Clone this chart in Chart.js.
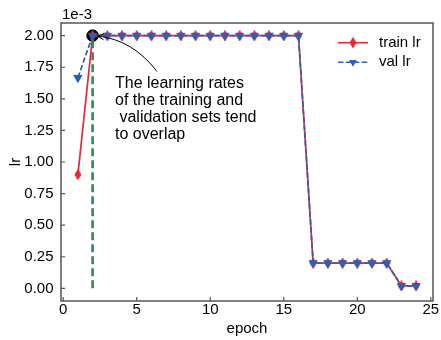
<!DOCTYPE html>
<html><head><meta charset="utf-8">
<script src="https://cdn.jsdelivr.net/npm/chart.js@4.4.0/dist/chart.umd.min.js"></script>
<style>html,body{margin:0;padding:0;background:#fff}</style>
</head><body>
<canvas id="c" width="441" height="340" style="width:441px;height:340px;display:block"></canvas>
<script>
// ---- data ----
const epochs = [1,2,3,4,5,6,7,8,9,10,11,12,13,14,15,16,17,18,19,20,21,22,23,24];
const trainLr = [0.0009,0.002,0.002,0.002,0.002,0.002,0.002,0.002,0.002,0.002,0.002,0.002,0.002,0.002,0.002,0.002,0.0002,0.0002,0.0002,0.0002,0.0002,0.0002,0.00002,0.00002];
const valLr = [0.001667,0.002,0.002,0.002,0.002,0.002,0.002,0.002,0.002,0.002,0.002,0.002,0.002,0.002,0.002,0.002,0.0002,0.0002,0.0002,0.0002,0.0002,0.0002,0.00002,0.00002];
const highlightEpoch = [2];
const highlightLr = [0.002];
const guideEpoch = [2, 2];
const guideLr = [0, 0.002];
const xTicks = [0,5,10,15,20,25];
const yTicks = [0,0.00025,0.0005,0.00075,0.001,0.00125,0.0015,0.00175,0.002];
const yScaleFactor = 1000;
const yOffsetLabel = "1e-3";
const legendLabels = ["train lr", "val lr"];
const annotationLines = ["The learning rates", "of the training and", " validation sets tend", "to overlap"];
const xTitle = "epoch";
const yTitle = "lr";

// ---- styles ----
const FONT = "'Liberation Sans', Arial, Helvetica, sans-serif";
const RED = '#e8283a', BLUE = '#2f5fb3', GREEN = '#2e8b57', SPINE = '#555555';

function makeDiamond(color){
  const cv = document.createElement('canvas');
  cv.width = 8; cv.height = 11;
  const g = cv.getContext('2d');
  g.beginPath();
  g.moveTo(4,0.5); g.lineTo(7,5.5); g.lineTo(4,10.5); g.lineTo(1,5.5); g.closePath();
  g.fillStyle = color; g.fill();
  g.strokeStyle = color; g.lineWidth = 1; g.stroke();
  return cv;
}
const diamond = makeDiamond(RED);

const pts = (xs, ys) => xs.map((x,i)=>({x:x, y:ys[i]}));

const framePlugin = {
  id: 'frame',
  afterDatasetsDraw(chart){
    const ctx = chart.ctx, a = chart.chartArea;
    const xs = chart.scales.x, ys = chart.scales.y;
    ctx.save();
    ctx.strokeStyle = SPINE; ctx.lineWidth = 1.5;
    ctx.strokeRect(a.left, a.top, a.right - a.left, a.bottom - a.top);
    ctx.lineWidth = 1.2;
    ctx.beginPath();
    xTicks.forEach(v=>{ const p = xs.getPixelForValue(v); ctx.moveTo(p, a.bottom); ctx.lineTo(p, a.bottom-4); });
    yTicks.forEach(v=>{ const p = ys.getPixelForValue(v); ctx.moveTo(a.left, p); ctx.lineTo(a.left+4, p); });
    ctx.stroke();
    ctx.fillStyle = '#000';
    ctx.font = '15px ' + FONT;
    ctx.textAlign = 'left'; ctx.textBaseline = 'middle';
    ctx.fillText(yOffsetLabel, a.left + 1, 15);

    // legend
    const lx0 = a.right - 95, lx1 = a.right - 65, lt = a.right - 54;
    const rows = [a.top + 19.7, a.top + 39.3];
    ctx.strokeStyle = RED; ctx.lineWidth = 1.6; ctx.setLineDash([]);
    ctx.beginPath(); ctx.moveTo(lx0, rows[0]); ctx.lineTo(lx1, rows[0]); ctx.stroke();
    ctx.drawImage(diamond, (lx0+lx1)/2 - 4, rows[0] - 5.5);
    ctx.strokeStyle = BLUE; ctx.setLineDash([5.5, 2.4]);
    ctx.beginPath(); ctx.moveTo(lx0, rows[1]); ctx.lineTo(lx1, rows[1]); ctx.stroke();
    ctx.setLineDash([]);
    const cx = (lx0+lx1)/2, cy = rows[1], r = 4.5;
    ctx.fillStyle = BLUE;
    ctx.beginPath();
    ctx.moveTo(cx, cy + r);
    ctx.lineTo(cx + r*Math.sqrt(3)/2, cy - r/2);
    ctx.lineTo(cx - r*Math.sqrt(3)/2, cy - r/2);
    ctx.closePath(); ctx.fill();
    ctx.fillStyle = '#000';
    ctx.fillText(legendLabels[0], lt, rows[0]);
    ctx.fillText(legendLabels[1], lt, rows[1]);

    // annotation text
    ctx.font = '16px ' + FONT;
    const tx = a.left + 54, ty = a.top + 60.5, lh = 16.9;
    annotationLines.forEach((s,i)=> ctx.fillText(s, tx, ty + i*lh));

    // arrow
    const P = {x: xs.getPixelForValue(highlightEpoch[0]), y: ys.getPixelForValue(highlightLr[0])};
    const S = {x: a.left + 96, y: a.top + 48.5};
    const mx = (P.x+S.x)/2, my = (P.y+S.y)/2;
    let dx = P.x - S.x, dy = P.y - S.y; const L = Math.hypot(dx,dy);
    const nx = -dy/L, ny = dx/L;
    const C = {x: mx + nx*16, y: my + ny*16};
    let ux = P.x - C.x, uy = P.y - C.y; const Lu = Math.hypot(ux,uy); ux/=Lu; uy/=Lu;
    const T = {x: P.x - ux*5, y: P.y - uy*5};
    ctx.strokeStyle = '#000'; ctx.lineWidth = 1;
    ctx.beginPath(); ctx.moveTo(S.x, S.y); ctx.quadraticCurveTo(C.x, C.y, T.x, T.y); ctx.stroke();
    const hl = 7, ang = 0.45;
    const bx = -ux, by = -uy;
    ctx.beginPath();
    ctx.moveTo(T.x + hl*(bx*Math.cos(ang) - by*Math.sin(ang)), T.y + hl*(bx*Math.sin(ang) + by*Math.cos(ang)));
    ctx.lineTo(T.x, T.y);
    ctx.lineTo(T.x + hl*(bx*Math.cos(-ang) - by*Math.sin(-ang)), T.y + hl*(bx*Math.sin(-ang) + by*Math.cos(-ang)));
    ctx.stroke();
    ctx.restore();
  }
};

new Chart(document.getElementById('c'), {
  type: 'scatter',
  data: {
    datasets: [
      { label: 'highlight', data: pts(highlightEpoch, highlightLr), showLine: false,
        pointRadius: 5.8, pointBackgroundColor: '#000', pointBorderColor: '#000', pointBorderWidth: 1, order: 4 },
      { label: legendLabels[0], data: pts(epochs, trainLr), showLine: true, borderColor: RED, borderWidth: 1.7,
        pointStyle: diamond, pointRadius: 4, backgroundColor: RED, order: 3 },
      { label: legendLabels[1], data: pts(epochs, valLr), showLine: true, borderColor: BLUE, borderWidth: 1.7,
        borderDash: [5.5, 2.4], pointStyle: 'triangle', rotation: 180, pointRadius: 4.7,
        pointBackgroundColor: BLUE, pointBorderColor: BLUE, pointBorderWidth: 1, order: 2 },
      { label: 'guide', data: pts(guideEpoch, guideLr), showLine: true, borderColor: GREEN, borderWidth: 2.6,
        borderDash: [8, 4], pointRadius: 0, order: 1 }
    ]
  },
  options: {
    responsive: false, animation: false, devicePixelRatio: 1,
    layout: { padding: { top: 23, right: 8, left: 0, bottom: 0 } },
    plugins: { legend: { display: false }, tooltip: { enabled: false } },
    scales: {
      x: {
        type: 'linear', min: -0.15, max: 25.15,
        afterBuildTicks: s => { s.ticks = xTicks.map(v => ({value: v})); },
        afterFit: s => { s.height = 39; },
        grid: { display: false, drawTicks: false }, border: { display: false },
        ticks: { font: { family: FONT, size: 15 }, color: '#000', padding: 0, maxRotation: 0, autoSkip: false },
        title: { display: true, text: xTitle, font: { family: FONT, size: 15 }, color: '#000', padding: { top: 0, bottom: 2.4 } }
      },
      y: {
        type: 'linear', min: -0.0001, max: 0.0021,
        afterBuildTicks: s => { s.ticks = yTicks.map(v => ({value: v})); },
        afterFit: s => { s.width = 61; },
        grid: { display: false, drawTicks: false }, border: { display: false },
        ticks: { font: { family: FONT, size: 15 }, color: '#000', padding: 7.5, autoSkip: false,
                 callback: v => (v * yScaleFactor).toFixed(2) },
        title: { display: true, text: yTitle, font: { family: FONT, size: 15 }, color: '#000', padding: { top: 6.5, bottom: 0 } }
      }
    }
  },
  plugins: [framePlugin]
});
</script>
</body></html>
